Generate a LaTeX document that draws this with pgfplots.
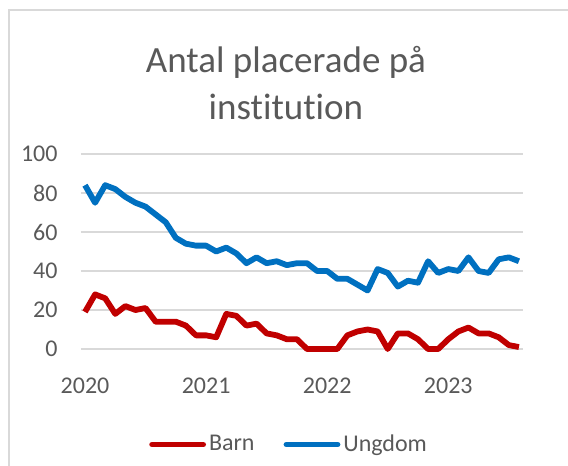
\documentclass[border=0pt]{standalone}
\usepackage{fontspec}
\setmainfont{Carlito}[Ligatures=NoCommon]
\usepackage{pgfplots}
\pgfplotsset{compat=1.18}

\definecolor{barnred}{HTML}{C00000}
\definecolor{ungblue}{HTML}{0070C0}
\definecolor{txtgray}{HTML}{595959}
\definecolor{gridgray}{HTML}{D9D9D9}

\pgfplotstableread{
i barn ungdom
0 19 84
1 28 75
2 26 84
3 18 82
4 22 78
5 20 75
6 21 73
7 14 69
8 14 65
9 14 57
10 12 54
11 7 53
12 7 53
13 6 50
14 18 52
15 17 49
16 12 44
17 13 47
18 8 44
19 7 45
20 5 43
21 5 44
22 0 44
23 0 40
24 0 40
25 0 36
26 7 36
27 9 33
28 10 30
29 9 41
30 0 39
31 8 32
32 8 35
33 5 34
34 0 45
35 0 39
36 5 41
37 9 40
38 11 47
39 8 40
40 8 39
41 6 46
42 2 47
43 1 45
}\placerade

\begin{document}
\begin{tikzpicture}
% page = 568x466 px at 0.5pt per px, origin at the axis corner
\useasboundingbox (-42.5pt,-58.5pt) rectangle (241.5pt,174.5pt);
\draw[gridgray, line width=0.6pt] (-38pt,-80pt) -- (-38pt,169.5pt) -- (260pt,169.5pt);
\begin{axis}[
    at={(0pt,0pt)}, anchor=origin,
    scale only axis,
    width=221pt, height=97.5pt,
    xmin=-0.4, xmax=43.4,
    ymin=0, ymax=100,
    clip=false,
    axis line style={draw=none},
    major tick length=0pt,
    ytick={0,20,40,60,80,100},
    ymajorgrids,
    grid style={gridgray, line width=0.6pt},
    xtick={0,12,24,36},
    xticklabels={2020,2021,2022,2023},
    /pgf/number format/assume math mode=true,
    ticklabel style={font=\fontsize{12}{14}\selectfont, text=txtgray},
    yticklabel style={anchor=east, inner sep=0pt, xshift=-11.5pt},
    xticklabel style={anchor=center, inner sep=0pt, yshift=-18.5pt},
    legend style={at={(0.472,-0.49)}, anchor=center, draw=none, fill=none,
        font=\fontsize{12}{14}\selectfont, text=txtgray,
        legend columns=2, nodes={inner sep=1.5pt},
        /tikz/every even column/.append style={column sep=13pt}},
    legend image code/.code={\draw[#1, line cap=round] (0pt,0pt) -- (25.5pt,0pt);},
]
\addplot[barnred, line width=2.9pt, line join=round] table[x=i, y=barn] {\placerade};
\addplot[ungblue, line width=2.9pt, line join=round] table[x=i, y=ungdom] {\placerade};
\legend{Barn, Ungdom}
\node[align=center, text=txtgray, font=\fontsize{18.5}{23.5}\selectfont]
    at (axis description cs:0.4638,1.362) {Antal placerade på\\institution};
\end{axis}
\end{tikzpicture}
\end{document}
